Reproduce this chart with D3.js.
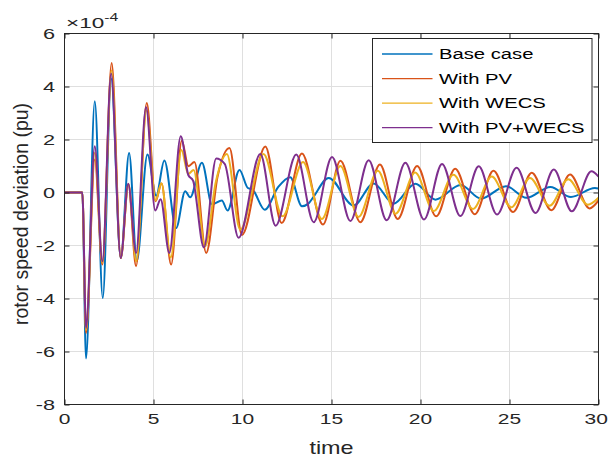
<!DOCTYPE html>
<html><head><meta charset="utf-8">
<script src="https://cdn.jsdelivr.net/npm/d3@7"></script>
<style>
body{margin:0;background:#fff;}
svg{display:block;font-family:"Liberation Sans",Arial,Helvetica,sans-serif;}
</style>
</head><body>
<svg id="chart" width="609" height="456"></svg>
<script>
// ---- data (values in units of 1e-4 pu) ----
const seriesNames = ["Base case", "With PV", "With WECS", "With PV+WECS"];
const seriesColors = ["#0072BD", "#D95319", "#EDB120", "#7E2F8E"];
const xTicks = [0, 5, 10, 15, 20, 25, 30];
const yTicks = [-8, -6, -4, -2, 0, 2, 4, 6];
const yExponent = "-4";
const xLabel = "time";
const yLabel = "rotor speed deviation (pu)";

const baseCase = [[0,0],[1.0,0],[1.21,-6.26],[1.70,3.44],[2.15,-3.98],[2.62,4.3],[3.16,-2.47],[3.63,1.49],[4.06,-2.59],[4.66,1.43],[5.15,-0.12],[5.61,1.21],[6.27,-1.34],[6.78,0.05],[7.06,-0.18],[7.72,1.12],[8.29,-0.45],[8.84,-0.3],[9.16,-0.68],[9.83,0.85],[10.3,0.17],[10.55,0.12],[11.25,-0.65],[12.0,0.2],[12.68,0.58],[13.34,-0.52],[13.7,-0.42],[13.95,-0.2],[14.84,0.55],[16.24,-0.49],[17.37,0.34],[18.49,-0.42],[19.71,0.33],[20.84,-0.27],[22.25,0.28],[23.4,-0.23],[24.8,0.24],[25.95,-0.2],[27.3,0.21],[28.45,-0.17],[29.8,0.17],[30,0.15]];

const withPV = [[0,0],[1.0,0],[1.21,-5.30],[1.70,1.25],[2.13,-2.72],[2.65,4.89],[3.16,-2.47],[3.59,0.30],[4.02,-2.78],[4.62,3.38],[5.12,-0.33],[5.45,0.34],[5.99,-2.72],[6.59,1.95],[6.96,0.99],[7.3,1.15],[7.96,-2.28],[8.6,0.6],[9.27,1.68],[9.97,-1.6],[11.28,1.74],[12.2,-1.15],[13.34,1.47],[14.52,-1.21],[15.5,1.2],[16.62,-1.12],[17.72,1.06],[18.72,-1.0],[19.81,1.0],[20.88,-0.9],[21.95,0.9],[23.05,-0.82],[24.1,0.82],[25.2,-0.74],[26.25,0.75],[27.35,-0.67],[28.4,0.68],[29.5,-0.6],[30,-0.3]];

const withWECS = [[0,0],[1.0,0],[1.21,-5.2],[1.70,1.5],[2.13,-2.65],[2.64,4.6],[3.16,-2.47],[3.59,0.32],[4.03,-2.6],[4.6,3.1],[5.12,-0.3],[5.45,0.35],[5.97,-2.45],[6.57,1.6],[6.95,0.7],[7.25,0.85],[7.9,-2.03],[8.5,0.4],[9.12,1.45],[9.87,-1.4],[11.18,1.45],[12.25,-0.9],[13.4,1.15],[14.46,-1.0],[15.5,1.0],[16.52,-0.92],[17.6,0.82],[18.6,-0.8],[19.7,0.75],[20.75,-0.7],[21.85,0.67],[22.95,-0.62],[24.0,0.6],[25.1,-0.56],[26.15,0.55],[27.25,-0.5],[28.3,0.5],[29.4,-0.46],[30,-0.2]];

const withPVWECS = [[0,0],[1.0,0],[1.21,-5.11],[1.70,1.75],[2.13,-2.6],[2.62,4.49],[3.16,-2.47],[3.58,0.33],[4.02,-2.28],[4.58,3.22],[5.1,-0.68],[5.4,-0.25],[5.89,-2.28],[6.53,2.12],[6.96,0.65],[7.22,0.45],[7.83,-2.07],[8.52,1.28],[9.0,1.08],[9.78,-1.71],[11.0,1.45],[11.86,-1.25],[13.02,1.43],[14.0,-1.12],[15.03,1.34],[16.06,-1.08],[17.09,1.22],[18.1,-1.05],[19.15,1.12],[20.2,-1.02],[21.21,1.08],[22.24,-0.89],[23.27,0.99],[24.3,-0.83],[25.4,0.93],[26.46,-0.77],[27.49,0.87],[28.5,-0.71],[29.6,0.8],[30,0.6]];

const allSeries = [baseCase, withPV, withWECS, withPVWECS];

// ---- layout ----
const W = 609, H = 456;
const pL = 64.5, pR = 598.5, pT = 33.5, pB = 404.5;
const axisColor = "#262626";
const gridColor = "#dfdfdf";

const svg = d3.select("#chart");
svg.append("rect").attr("width", W).attr("height", H).attr("fill", "#fff");

const x = d3.scaleLinear().domain([0, 30]).range([pL, pR]);
const y = d3.scaleLinear().domain([-8, 6]).range([pB, pT]);

// grid
const grid = svg.append("g");
grid.selectAll("line.gx").data(xTicks.filter(d => d > 0 && d < 30)).enter().append("line")
  .attr("x1", d => x(d)).attr("x2", d => x(d)).attr("y1", pT).attr("y2", pB)
  .attr("stroke", gridColor).attr("stroke-width", 1);
grid.selectAll("line.gy").data(yTicks.filter(d => d > -8 && d < 6)).enter().append("line")
  .attr("y1", d => y(d)).attr("y2", d => y(d)).attr("x1", pL).attr("x2", pR)
  .attr("stroke", gridColor).attr("stroke-width", 1);

// clip
svg.append("clipPath").attr("id", "clip").append("rect")
  .attr("x", pL).attr("y", pT).attr("width", pR - pL).attr("height", pB - pT);

const line = d3.line().x(d => x(d[0])).y(d => y(d[1])).curve(d3.curveMonotoneX);
const plot = svg.append("g").attr("clip-path", "url(#clip)");
allSeries.forEach((s, i) => {
  plot.append("path").datum(s).attr("d", line)
    .attr("fill", "none").attr("stroke", seriesColors[i]).attr("stroke-width", 2)
    .attr("stroke-linejoin", "round");
});

// axes via d3 axis generators (inward ticks)
function styleAxis(g) {
  g.select(".domain").remove();
  g.selectAll(".tick line").attr("stroke", axisColor).attr("stroke-width", 1);
  g.selectAll(".tick text").remove();
}
svg.append("g").attr("transform", `translate(0,${pB})`)
  .call(d3.axisTop(x).tickValues(xTicks).tickSize(5)).call(styleAxis);
svg.append("g").attr("transform", `translate(0,${pT})`)
  .call(d3.axisBottom(x).tickValues(xTicks).tickSize(5)).call(styleAxis);
svg.append("g").attr("transform", `translate(${pL},0)`)
  .call(d3.axisRight(y).tickValues(yTicks).tickSize(5)).call(styleAxis);
svg.append("g").attr("transform", `translate(${pR},0)`)
  .call(d3.axisLeft(y).tickValues(yTicks).tickSize(5)).call(styleAxis);

// box
svg.append("rect").attr("x", pL).attr("y", pT).attr("width", pR - pL).attr("height", pB - pT)
  .attr("fill", "none").attr("stroke", axisColor).attr("stroke-width", 1);

// stretched text helper
function stext(xp, yp, str, size, sx, anchor) {
  const t = svg.append("text")
    .attr("transform", `translate(${xp},${yp}) scale(${sx},1)`)
    .attr("text-anchor", anchor).attr("font-size", size).attr("fill", axisColor).text(str);
  const r = t.node().getBoundingClientRect();
  if (r.right > W - 1) {
    t.attr("transform", `translate(${xp - (r.right - (W - 1))},${yp}) scale(${sx},1)`);
  }
  return t;
}

// tick labels
xTicks.forEach(t => stext(x(t), 424, String(t), 14, 1.5, "middle"));
yTicks.forEach(t => stext(55, y(t) + 5, String(t), 14, 1.55, "end"));

// exponent label
const ex = svg.append("text").attr("transform", "translate(66,27.5) scale(1.5,1)")
  .attr("fill", axisColor).attr("font-size", 15);
ex.append("tspan").text("\u00d710");
ex.append("tspan").attr("font-size", 10.5).attr("dy", -7).text(yExponent);

// axis labels
stext((pL + pR) / 2, 454, xLabel, 18, 1.3, "middle");
svg.append("text").attr("transform", "translate(28,214) rotate(-90)")
  .attr("text-anchor", "middle").attr("font-size", 19.5).attr("fill", axisColor).text(yLabel);

// legend
const lg = svg.append("g");
lg.append("rect").attr("x", 372.5).attr("y", 38.5).attr("width", 219.5).attr("height", 104)
  .attr("fill", "#fff").attr("stroke", axisColor).attr("stroke-width", 1);
const legY = d3.scalePoint().domain(seriesNames).range([54, 127.7]);
seriesNames.forEach((n, i) => {
  const yy = legY(n);
  lg.append("line").attr("x1", 382).attr("x2", 432.5).attr("y1", yy).attr("y2", yy)
    .attr("stroke", seriesColors[i]).attr("stroke-width", 1.3);
  lg.append("text").attr("transform", `translate(439,${yy + 5.3}) scale(1.35,1)`)
    .attr("font-size", 15).attr("fill", "#000").text(n);
});
</script>
</body></html>
